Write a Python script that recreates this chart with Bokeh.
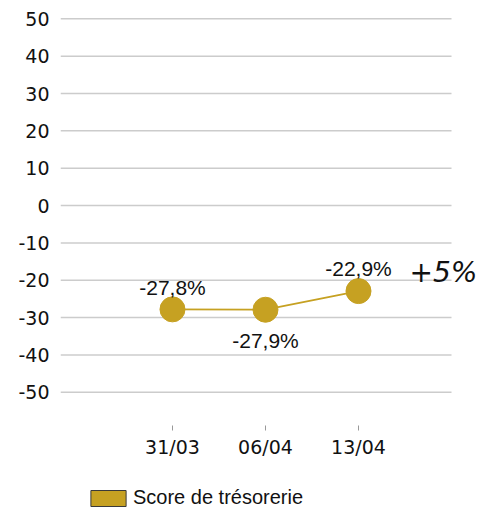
from bokeh.plotting import figure
from bokeh.models import (ColumnDataSource, FixedTicker, Label, Legend, LegendItem)
from bokeh.layouts import column
from bokeh.core.properties import value
from bokeh.embed import file_html
from bokeh.resources import INLINE

categories = ["31/03", "06/04", "13/04"]
scores = [-27.8, -27.9, -22.9]
y_ticks = [50, 40, 30, 20, 10, 0, -10, -20, -30, -40, -50]
series_name = "Score de trésorerie"
change_text = "+5%"

GOLD = "#C6A122"
TXT = "#111111"
xs = list(range(len(categories)))
labels = [f"{v:.1f}%".replace(".", ",") for v in scores]
label_offsets = [-22, 31, -23]

X_START, X_GRID_END, X_END = -1.204, 3.0, 3.301

src = ColumnDataSource(dict(x=xs, y=scores, lab=labels, off=label_offsets))

p = figure(width=479, height=470, output_backend="svg", toolbar_location=None,
           x_range=(X_START, X_END), y_range=(-58.9, 51.7),
           min_border_left=60, min_border_right=0, min_border_top=12,
           min_border_bottom=45)
p.outline_line_color = None

# horizontal grid lines (ending before the right-hand annotation)
p.segment(x0=[X_START] * len(y_ticks), x1=[X_GRID_END] * len(y_ticks),
          y0=y_ticks, y1=y_ticks, line_color="#cccccc", line_width=1.5)

p.line("x", "y", source=src, line_color=GOLD, line_width=1.8)
p.scatter("x", "y", source=src, size=25, fill_color=GOLD, line_color=GOLD)
p.text("x", "y", text="lab", source=src, y_offset="off",
       text_align="center", text_baseline="middle",
       text_font=value("Liberation Sans"), text_font_size="21px", text_color=TXT)

p.add_layout(Label(x=2.914, y=-17.9, text=change_text, text_align="center",
                   text_baseline="middle", text_font="DejaVu Sans",
                   text_font_style="italic", text_font_size="28px",
                   text_color=TXT))

p.xaxis.ticker = FixedTicker(ticks=xs)
p.xaxis.major_label_overrides = {i: c for i, c in zip(xs, categories)}
p.xaxis.axis_line_color = None
p.xaxis.major_tick_in = 0
p.xaxis.major_tick_out = 5
p.xaxis.major_tick_line_color = "#999999"
p.xaxis.minor_tick_line_color = None
p.xaxis.major_label_text_font = "DejaVu Sans"
p.xaxis.major_label_text_font_size = "19px"
p.xaxis.major_label_text_color = TXT
p.xaxis.major_label_standoff = 5

p.yaxis.ticker = FixedTicker(ticks=y_ticks)
p.yaxis.major_label_overrides = {t: str(t) for t in y_ticks}
p.yaxis.axis_line_color = None
p.yaxis.major_tick_line_color = None
p.yaxis.minor_tick_line_color = None
p.yaxis.major_label_text_font = "DejaVu Sans"
p.yaxis.major_label_text_font_size = "19px"
p.yaxis.major_label_text_color = TXT
p.yaxis.major_label_standoff = 5

p.xgrid.grid_line_color = None
p.ygrid.grid_line_color = None

# legend strip below the chart (series bars lie outside this strip's view,
# they only provide the legend swatch)
q = figure(width=479, height=42, output_backend="svg", toolbar_location=None,
           x_axis_location=None, y_axis_location=None, min_border=0,
           x_range=(0, 1), y_range=(1, 2))
q.outline_line_color = None
q.grid.grid_line_color = None
swatch = q.vbar(x=xs, top=scores, width=0.5, fill_color=GOLD, line_color="#3a3a3a")
leg = Legend(items=[LegendItem(label=series_name, renderers=[swatch])],
             location=(26, 3), orientation="horizontal",
             glyph_width=44, glyph_height=20, label_standoff=3,
             label_text_font="Liberation Sans", label_text_font_size="20px",
             label_text_color=TXT, padding=0, margin=0, spacing=0,
             border_line_color=None, background_fill_alpha=0)
q.add_layout(leg, "center")

layout = column(p, q, spacing=0)
open("out.html", "w").write(file_html(layout, INLINE))
